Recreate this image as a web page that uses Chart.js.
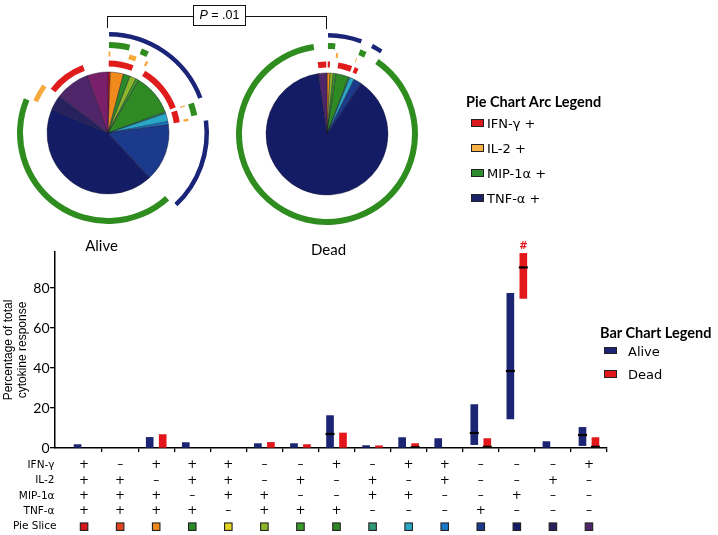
<!DOCTYPE html>
<html><head><meta charset="utf-8">
<script src="https://cdn.jsdelivr.net/npm/chart.js@4.4.1/dist/chart.umd.min.js"></script>
<style>
html,body{margin:0;padding:0;background:#fff;}
#wrap{position:relative;width:718px;height:535px;overflow:hidden;background:#fff;font-family:'DejaVu Sans',sans-serif;color:#000;}
canvas{position:absolute;}
.t{position:absolute;white-space:nowrap;line-height:1;}
.sw{position:absolute;border:1px solid #222;box-sizing:border-box;}
.ln{position:absolute;background:#111;}
</style></head><body>
<div id="wrap">
<canvas id="bar" width="718" height="535" style="left:0;top:0"></canvas>
<canvas id="alive" width="210" height="210" style="left:3px;top:28px"></canvas>
<canvas id="dead" width="210" height="210" style="left:222px;top:29px"></canvas>

<div class="ln" style="left:107px;top:16px;width:86px;height:1px"></div>
<div class="ln" style="left:107px;top:16px;width:1px;height:12px"></div>
<div class="ln" style="left:246px;top:16px;width:81px;height:1px"></div>
<div class="ln" style="left:326px;top:16px;width:1px;height:13px"></div>
<div style="position:absolute;left:193px;top:5px;width:53px;height:21px;border:1px solid #111;box-sizing:border-box;font:12.5px 'Liberation Sans',sans-serif;line-height:19px;text-align:center;"><i>P</i> = .01</div>

<div class="t" style="left:66px;width:71px;text-align:center;top:235.5px;font:15px Lato,sans-serif;">Alive</div>
<div class="t" style="left:293px;width:71px;text-align:center;top:240px;font:15px Lato,sans-serif;">Dead</div>

<div class="t" style="left:466px;top:92.5px;font:bold 14.5px Lato,sans-serif;">Pie Chart Arc Legend</div>
<div id="arcLegend"></div>

<div class="t" style="left:600px;top:323.5px;font:bold 14.5px Lato,sans-serif;">Bar Chart Legend</div>
<div id="barLegend"></div>
</div>
<script>
// ---------------- data ----------------
const categories = ['IFN+IL2+MIP+TNF+','IL2+MIP+TNF+','IFN+MIP+TNF+','IFN+IL2+TNF+','IFN+IL2+MIP+',
  'MIP+TNF+','IL2+TNF+','IFN+TNF+','IL2+MIP+','IFN+MIP+','IFN+IL2+','TNF+','MIP+','IL2+','IFN+'];
const tableRows = ['IFN-γ','IL-2','MIP-1α','TNF-α'];
const ifnPos = [1,0,1,1,1,0,0,1,0,1,1,0,0,0,1];
const il2Pos = [1,1,0,1,1,0,1,0,1,0,1,0,0,1,0];
const mipPos = [1,1,1,0,1,1,0,0,1,1,0,0,1,0,0];
const tnfPos = [1,1,1,1,0,1,1,1,0,0,0,1,0,0,0];
const sliceColors = ['#d7171c','#e0431e','#f08a1c','#2a8a28','#e3d21f','#8db62b','#3c9a2b','#2f8a24',
  '#2e9a78','#2aa8c8','#1c78c9','#1b3a8b','#141c66','#27215f','#4e2669'];
const otherSliceColor = '#7a1f69';

// pie slice percentages (clockwise from 12 o'clock)
const alivePie = [0.6,0,3.5,1.8,0,1.7,0.8,11.0,0.4,2.2,0.8,15.3,43.3,3.9,9.2];
const alivePieOther = 5.5;
const deadPie = [0,0,0.83,0,0,0.83,0.69,3.47,0.28,1.25,0,2.08,88.33,0,2.22];
const deadPieOther = 0;

// bar chart (percentage of total cytokine response)
const aliveLow    = [0,null,0,0,null,0,0,0,0,0,0,1.7,14.5,0,1.2];
const aliveHigh   = [1.7,null,5.3,2.7,null,2.2,2.2,16.2,1.2,5.2,4.7,21.7,77.3,3.2,10.3];
const aliveMedian = [null,null,null,null,null,null,null,7.0,null,null,null,7.5,38.5,null,6.5];
const deadLow     = [null,null,0,null,null,0,0,0,0,0,null,0,74.8,null,0];
const deadHigh    = [null,null,6.7,null,null,2.8,1.7,7.5,1.1,2.2,null,4.7,97.3,null,5.2];
const deadMedian  = [null,null,null,null,null,null,null,null,null,0.4,null,0.6,90.3,null,0.6];
const deadMarks   = ['','','','','','','','','','','','','#','',''];
const yTicks = [0,20,40,60,80];
const arcLegendLabels = ['IFN-γ +','IL-2 +','MIP-1α +','TNF-α +'];
const barLegendLabels = ['Alive','Dead'];

// ---------------- styles ----------------
const ringColors = ['#e01b1b','#f7aa3c','#2f8d20','#1a2478'];
const aliveColor = '#1c2474', deadColor = '#e3161b';
const CLEAR = 'rgba(0,0,0,0)';

// legends (HTML)
(function(){
  const al = document.getElementById('arcLegend');
  const swc = ['#d8181b','#f7b043','#2e8b2e','#1a2368'];
  arcLegendLabels.forEach((l,i)=>{
    const cy = 122.8 + 25*i;
    al.insertAdjacentHTML('beforeend',
      `<div class="sw" style="left:470.5px;top:${cy-3.8}px;width:13px;height:7.5px;background:${swc[i]}"></div>`+
      `<div class="t" style="left:487px;top:${cy-6.9}px;font:13px 'DejaVu Sans',sans-serif;">${l}</div>`);
  });
  const bl = document.getElementById('barLegend');
  [aliveColor, deadColor].forEach((c,i)=>{
    const cy = 350.7 + 23.5*i;
    bl.insertAdjacentHTML('beforeend',
      `<div class="sw" style="left:604px;top:${cy-3.8}px;width:12.5px;height:7.5px;background:${c}"></div>`+
      `<div class="t" style="left:628px;top:${cy-6.9}px;font:13px 'DejaVu Sans',sans-serif;">${barLegendLabels[i]}</div>`);
  });
})();

// ---------------- pies with arcs ----------------
function buildRing(values, flags, color, gap){
  const runs = [];
  values.forEach((v,i)=>{
    if (!v) return;
    const on = !!flags[i];
    if (runs.length && runs[runs.length-1].on === on) runs[runs.length-1].v += v;
    else runs.push({on, v});
  });
  const data = [], bg = [];
  runs.forEach(r=>{
    if (!r.on){ data.push(r.v); bg.push(CLEAR); return; }
    const g = Math.min(gap, r.v*0.2);
    data.push(g, r.v-2*g, g); bg.push(CLEAR, color, CLEAR);
  });
  return {data, backgroundColor: bg, borderWidth:0, hoverOffset:0};
}
function spacer(w){ return {data:[1], backgroundColor:[CLEAR], borderWidth:0, weight:w}; }
function makePie(id, slices, other){
  const vals = slices.concat([other]);
  const cols = sliceColors.concat([otherSliceColor]);
  const flag = a => a.concat([0]);
  const ring = (f,c,w) => Object.assign(buildRing(vals, flag(f), c, 0.17), {weight:w});
  new Chart(document.getElementById(id), {
    type:'doughnut',
    data:{ labels: categories.concat(['other']), datasets:[
      ring(tnfPos, ringColors[3], 4.5), spacer(5.5),
      ring(mipPos, ringColors[2], 6), spacer(3.5),
      ring(il2Pos, ringColors[1], 5), spacer(4),
      ring(ifnPos, ringColors[0], 6), spacer(5.5),
      {data: vals, backgroundColor: cols, borderWidth:0.7, borderColor:'rgba(20,20,40,0.6)', weight:61, hoverOffset:0}
    ]},
    options:{ responsive:false, animation:false, events:[], radius:101, cutout:0,
      layout:{padding:0}, plugins:{legend:{display:false}, tooltip:{enabled:false}} }
  });
}
makePie('alive', alivePie, alivePieOther);
makePie('dead', deadPie, deadPieOther);

// ---------------- bar chart ----------------
const OFF = 0.18;
const idxOf = hi => categories.map((c,i)=>i).filter(i=>hi[i]!=null);
const aliveIdx = idxOf(aliveHigh), deadIdx = idxOf(deadHigh);
const medPts = (med, side) => categories.map((c,i)=> med[i]==null?null:{x:i+side*OFF, y:med[i]}).filter(Boolean);

const tablePlugin = {
  id:'table',
  afterDraw(chart){
    const {ctx, scales:{x, y}} = chart;
    const base = chart.chartArea.bottom;
    const rowY = r => base + 17.3 + 15.35*r;
    const flags = [ifnPos, il2Pos, mipPos, tnfPos];
    ctx.save();
    ctx.fillStyle = '#000';
    ctx.textBaseline = 'middle';
    ctx.textAlign = 'right';
    ctx.font = "10.5px 'DejaVu Sans', sans-serif";
    tableRows.concat(['Pie Slice']).forEach((l,r)=> ctx.fillText(l, r===4?56.5:54.5, rowY(r)));
    ctx.textAlign = 'center';
    ctx.font = "12px 'DejaVu Sans', sans-serif";
    categories.forEach((c,i)=>{
      const px = x.getPixelForValue(i);
      flags.forEach((f,r)=> ctx.fillText(f[i] ? '+' : '–', px, rowY(r)));
      const s = 7.5, py = rowY(4);
      ctx.fillStyle = sliceColors[i];
      ctx.fillRect(px-s/2, py-s/2, s, s);
      ctx.strokeStyle = '#222'; ctx.lineWidth = 1.1;
      ctx.strokeRect(px-s/2, py-s/2, s, s);
      ctx.fillStyle = '#000';
    });
    // annotation marks above dead bars
    const meta = chart.getDatasetMeta(2);
    ctx.fillStyle = deadColor;
    ctx.font = "bold 10px 'DejaVu Sans', sans-serif";
    ctx.textBaseline = 'bottom';
    meta.data.forEach((el,k)=>{
      const m = deadMarks[deadIdx[k]];
      if (m) ctx.fillText(m, el.x, el.y - 1.5);
    });
    ctx.restore();
  }
};

new Chart(document.getElementById('bar'), {
  data:{ datasets:[
    {type:'scatter', label:'median', order:0,
     data: medPts(aliveMedian,-1).concat(medPts(deadMedian,1)),
     pointStyle:'line', pointRadius:4.5, pointBorderWidth:2.2, borderColor:'#000', backgroundColor:'#000', showLine:false},
    {type:'bar', label:'Alive', order:1, grouped:false, barThickness:7, borderWidth:0, backgroundColor:aliveColor,
     data: aliveIdx.map(i=>({x:i-OFF, y:[aliveLow[i], aliveHigh[i]]}))},
    {type:'bar', label:'Dead', order:1, grouped:false, barThickness:7, borderWidth:0, backgroundColor:deadColor,
     data: deadIdx.map(i=>({x:i+OFF, y:[deadLow[i], deadHigh[i]]}))}
  ]},
  options:{
    responsive:false, animation:false, events:[],
    layout:{padding:{left:0, top:252, right:111, bottom:0}},
    plugins:{legend:{display:false}, tooltip:{enabled:false}},
    scales:{
      x:{type:'linear', min:-0.806, max:14.5, offset:false,
        grid:{offset:false, drawOnChartArea:false, drawTicks:true, tickLength:4, color:'#000', lineWidth:1.3},
        border:{color:'#000', width:1.5},
        ticks:{display:false},
        afterBuildTicks: s => { s.ticks = categories.map((c,i)=>({value:i+0.5})); },
        afterFit: s => { s.height = 87; }
      },
      y:{type:'linear', min:0, max:98,
        grid:{drawOnChartArea:false, tickLength:5, color:'#000', lineWidth:1.3},
        border:{color:'#000', width:1.5},
        ticks:{font:{family:'Lato', size:14}, color:'#000', padding:0.5},
        afterBuildTicks: s => { s.ticks = yTicks.map(v=>({value:v})); },
        afterFit: s => { s.width = 55; },
        title:{display:true, text:['Percentage of total','cytokine response'],
          font:{family:'Liberation Sans', size:12, lineHeight:1.2}, color:'#000', padding:{top:1.5, bottom:0}}
      }
    }
  },
  plugins:[tablePlugin]
});
</script>
</body></html>
